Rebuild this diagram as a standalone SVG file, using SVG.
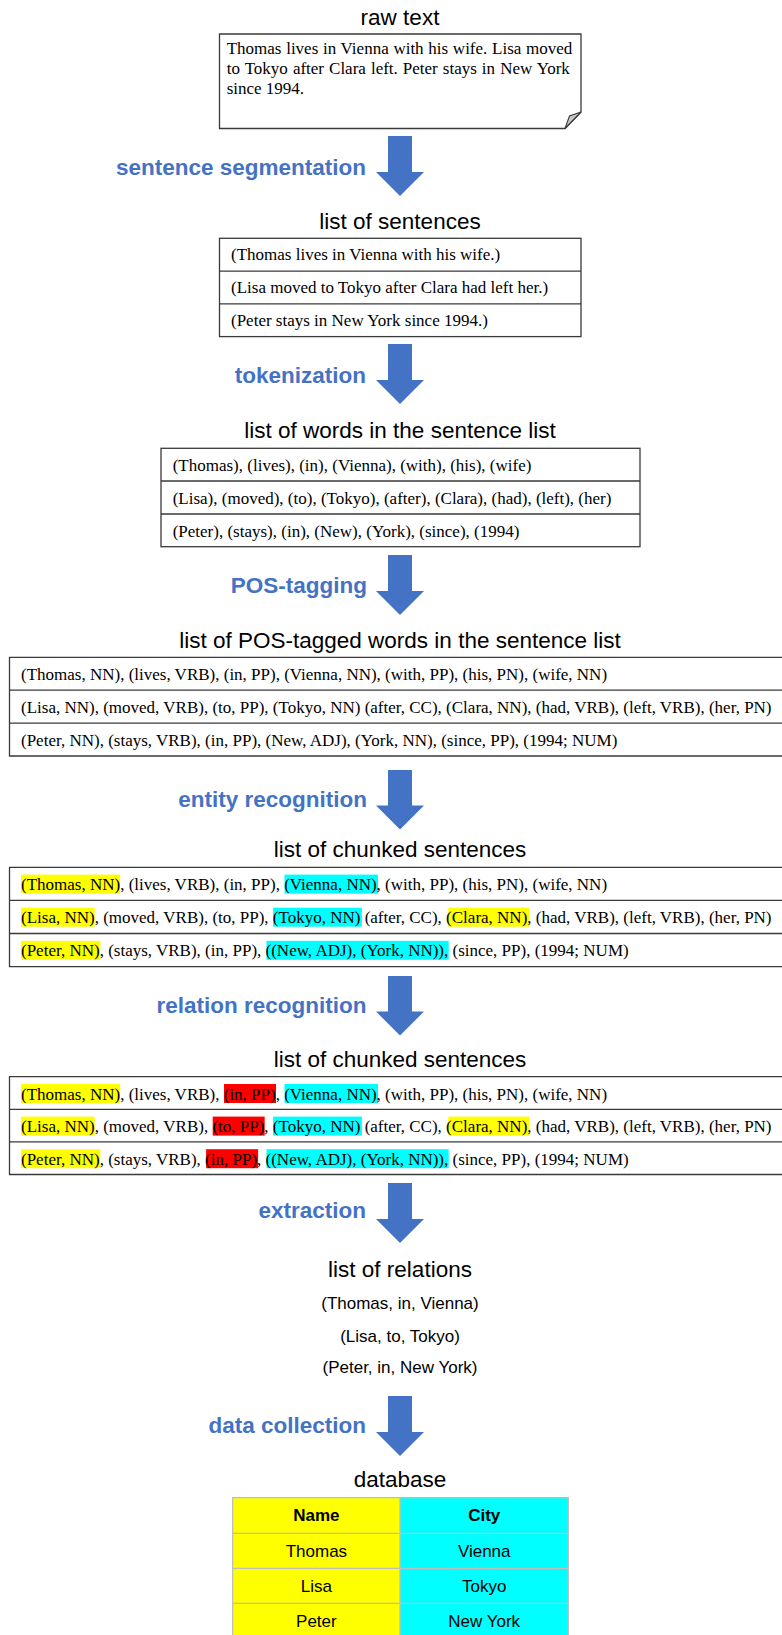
<svg xmlns="http://www.w3.org/2000/svg" width="782" height="1635" viewBox="0 0 782 1635">
<style>
.title{font-family:"Liberation Sans",Arial,sans-serif;font-size:22.5px;fill:#000;text-anchor:middle}
.lbl{font-family:"Liberation Sans",Arial,sans-serif;font-size:22.5px;font-weight:bold;fill:#4472C4;text-anchor:end}
.ser{font-family:"Liberation Serif","Times New Roman",serif;font-size:17px;fill:#000}
.sans{font-family:"Liberation Sans",Arial,sans-serif;font-size:17px;fill:#000;text-anchor:middle}
.box{fill:#fff;stroke:#3a3a3a;stroke-width:1.3}
.ln{fill:none;stroke:#3a3a3a;stroke-width:1.3}
.arrow{fill:#4472C4}
.y{fill:#ffff00}
.c{fill:#00ffff}
.r{fill:#ff0000}
.tb{stroke:#bdbdbd;stroke-width:1.3}
</style>

<g id="raw-text">
<text class="title" x="400" y="25">raw text</text>
<path class="box" d="M219.5,34 H581 V112 L565,128.5 H219.5 Z"/>
<path d="M565,128.5 L569.5,116 L581,112 Z" fill="#c8c8c8" stroke="#3a3a3a" stroke-width="1.1"/>
<text class="ser" x="226.7" y="54" word-spacing="0.46">Thomas lives in Vienna with his wife. Lisa moved</text>
<text class="ser" x="226.7" y="74" word-spacing="0.79">to Tokyo after Clara left. Peter stays in New York</text>
<text class="ser" x="226.7" y="94">since 1994.</text>
</g>

<g id="sentences">
<text class="title" x="400" y="229">list of sentences</text>
<rect class="box" x="219.5" y="238.3" width="361.5" height="98.3"/>
<path class="ln" d="M219.5,271.2 H581 M219.5,303.9 H581"/>
<text class="ser" x="231" y="260">(Thomas lives in Vienna with his wife.)</text>
<text class="ser" x="231" y="293">(Lisa moved to Tokyo after Clara had left her.)</text>
<text class="ser" x="231" y="325.7">(Peter stays in New York since 1994.)</text>
</g>

<g id="words">
<text class="title" x="400" y="438">list of words in the sentence list</text>
<rect class="box" x="161" y="448.3" width="479" height="98.4"/>
<path class="ln" d="M161,481 H640 M161,514 H640"/>
<text class="ser" x="172.7" y="470.8">(Thomas), (lives), (in), (Vienna), (with), (his), (wife)</text>
<text class="ser" x="172.7" y="503.6">(Lisa), (moved), (to), (Tokyo), (after), (Clara), (had), (left), (her)</text>
<text class="ser" x="172.7" y="536.5">(Peter), (stays), (in), (New), (York), (since), (1994)</text>
</g>

<g id="pos-tagged">
<text class="title" x="400" y="648.3">list of POS-tagged words in the sentence list</text>
<path class="ln" d="M782,657.3 H9.5 V756 H782 M9.5,690.2 H782 M9.5,723.1 H782"/>
<text class="ser" x="21" y="680.1">(Thomas, NN), (lives, VRB), (in, PP), (Vienna, NN), (with, PP), (his, PN), (wife, NN)</text>
<text class="ser" x="21" y="713">(Lisa, NN), (moved, VRB), (to, PP), (Tokyo, NN) (after, CC), (Clara, NN), (had, VRB), (left, VRB), (her, PN)</text>
<text class="ser" x="21" y="745.9">(Peter, NN), (stays, VRB), (in, PP), (New, ADJ), (York, NN), (since, PP), (1994; NUM)</text>
</g>

<g id="chunked-entities">
<text class="title" x="400" y="857">list of chunked sentences</text>
<path class="ln" d="M782,867.3 H9.5 V966.6 H782 M9.5,900.4 H782 M9.5,933.5 H782"/>
<rect class="y" x="21" y="874.6" width="99.1" height="19"/>
<rect class="c" x="284.5" y="874.6" width="93.5" height="19"/>
<rect class="y" x="21" y="907.7" width="73.6" height="19"/>
<rect class="c" x="273.1" y="907.7" width="88.8" height="19"/>
<rect class="y" x="448.3" y="907.7" width="81.2" height="19"/>
<rect class="y" x="21" y="940.8" width="79.3" height="19"/>
<rect class="c" x="266.5" y="940.8" width="182.2" height="19"/>
<text class="ser" x="21" y="890.1">(Thomas, NN), (lives, VRB), (in, PP), (Vienna, NN), (with, PP), (his, PN), (wife, NN)</text>
<text class="ser" x="21" y="923.2">(Lisa, NN), (moved, VRB), (to, PP), (Tokyo, NN) (after, CC), (Clara, NN), (had, VRB), (left, VRB), (her, PN)</text>
<text class="ser" x="21" y="956.3">(Peter, NN), (stays, VRB), (in, PP), ((New, ADJ), (York, NN)), (since, PP), (1994; NUM)</text>
</g>

<g id="chunked-relations">
<text class="title" x="400" y="1067">list of chunked sentences</text>
<path class="ln" d="M782,1076.7 H9.5 V1174.5 H782 M9.5,1109.3 H782 M9.5,1141.9 H782"/>
<rect class="y" x="21" y="1084" width="99.1" height="19"/>
<rect class="r" x="224" y="1084" width="52" height="19"/>
<rect class="c" x="284.5" y="1084" width="93.5" height="19"/>
<rect class="y" x="21" y="1116.6" width="73.6" height="19"/>
<rect class="r" x="212.7" y="1116.6" width="52" height="19"/>
<rect class="c" x="273.1" y="1116.6" width="88.8" height="19"/>
<rect class="y" x="448.3" y="1116.6" width="81.2" height="19"/>
<rect class="y" x="21" y="1149.2" width="79.3" height="19"/>
<rect class="r" x="206.1" y="1149.2" width="52" height="19"/>
<rect class="c" x="266.5" y="1149.2" width="182.2" height="19"/>
<text class="ser" x="21" y="1099.5">(Thomas, NN), (lives, VRB), (in, PP), (Vienna, NN), (with, PP), (his, PN), (wife, NN)</text>
<text class="ser" x="21" y="1132.1">(Lisa, NN), (moved, VRB), (to, PP), (Tokyo, NN) (after, CC), (Clara, NN), (had, VRB), (left, VRB), (her, PN)</text>
<text class="ser" x="21" y="1164.7">(Peter, NN), (stays, VRB), (in, PP), ((New, ADJ), (York, NN)), (since, PP), (1994; NUM)</text>
</g>

<g id="relations">
<text class="title" x="400" y="1277">list of relations</text>
<text class="sans" x="400" y="1309">(Thomas, in, Vienna)</text>
<text class="sans" x="400" y="1341.7">(Lisa, to, Tokyo)</text>
<text class="sans" x="400" y="1373.3">(Peter, in, New York)</text>
</g>

<g id="database">
<text class="title" x="400" y="1487.3">database</text>
<rect class="y" x="232.7" y="1497.7" width="167.3" height="145"/>
<rect class="c" x="400" y="1497.7" width="168.3" height="145"/>
<path class="tb" fill="none" d="M232.7,1642 V1497.7 H568.3 V1642 M400,1497.7 V1642 M232.7,1533.3 H568.3 M232.7,1568.3 H568.3 M232.7,1603.3 H568.3"/>
<text class="sans" x="316.4" y="1520.7" font-weight="bold">Name</text>
<text class="sans" x="484.2" y="1520.7" font-weight="bold">City</text>
<text class="sans" x="316.4" y="1556.5">Thomas</text>
<text class="sans" x="484.2" y="1556.5">Vienna</text>
<text class="sans" x="316.4" y="1591.5">Lisa</text>
<text class="sans" x="484.2" y="1591.5">Tokyo</text>
<text class="sans" x="316.4" y="1626.5">Peter</text>
<text class="sans" x="484.2" y="1626.5">New York</text>
</g>

<g id="connectors">
<path class="arrow" d="M388,136 H412 V172 H424 L400,196 L376,172 H388 Z"/>
<text class="lbl" x="366" y="175">sentence segmentation</text>
<path class="arrow" d="M388,344 H412 V380 H424 L400,404 L376,380 H388 Z"/>
<text class="lbl" x="366" y="383">tokenization</text>
<path class="arrow" d="M388,555 H412 V591 H424 L400,615 L376,591 H388 Z"/>
<text class="lbl" x="367" y="593">POS-tagging</text>
<path class="arrow" d="M388,770 H412 V805.5 H424 L400,829.5 L376,805.5 H388 Z"/>
<text class="lbl" x="367" y="807">entity recognition</text>
<path class="arrow" d="M388,976 H412 V1011.5 H424 L400,1035.5 L376,1011.5 H388 Z"/>
<text class="lbl" x="366.5" y="1013">relation recognition</text>
<path class="arrow" d="M388,1183 H412 V1219 H424 L400,1243 L376,1219 H388 Z"/>
<text class="lbl" x="366" y="1218">extraction</text>
<path class="arrow" d="M388,1396 H412 V1432 H424 L400,1456 L376,1432 H388 Z"/>
<text class="lbl" x="366" y="1433">data collection</text>
</g>
</svg>
